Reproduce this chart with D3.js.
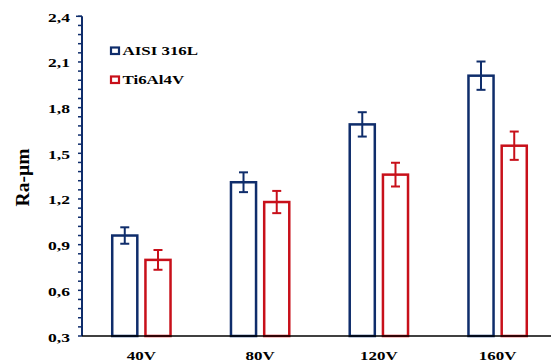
<!DOCTYPE html>
<html>
<head>
<meta charset="utf-8">
<script src="https://cdn.jsdelivr.net/npm/d3@7"></script>
<style>
  html, body { margin: 0; padding: 0; background: #fff; }
  svg { display: block; }
</style>
</head>
<body>
<svg id="chart" width="552" height="363"></svg>
<script>
// Surface roughness Ra (µm) by bias voltage for two alloys
const categories = ["40V", "80V", "120V", "160V"];
const seriesNames = ["AISI 316L", "Ti6Al4V"];
const aisiValues = [0.96, 1.31, 1.69, 2.01];
const aisiErrors = [0.054, 0.065, 0.08, 0.093];
const tiValues = [0.80, 1.18, 1.36, 1.55];
const tiErrors = [0.065, 0.073, 0.078, 0.093];
const yTicks = [0.3, 0.6, 0.9, 1.2, 1.5, 1.8, 2.1, 2.4];

const colors = ["#0f2d6b", "#c8101a"];
const series = [
  { name: seriesNames[0], values: aisiValues, errors: aisiErrors, color: colors[0] },
  { name: seriesNames[1], values: tiValues, errors: tiErrors, color: colors[1] }
];

const FONT = "'Liberation Serif', 'DejaVu Serif', 'Times New Roman', serif";
const SX = 1.3; // horizontal widening of the lettering

const svg = d3.select("#chart")
  .attr("font-family", FONT)
  .attr("font-weight", "bold");
const plotLeft = 82, plotRight = 557, plotTop = 16.3, plotBottom = 336;

const x = d3.scaleBand().domain(categories).range([plotLeft, plotRight]).padding(0);
const sub = d3.scaleBand().domain(seriesNames).range([-30.4, 30.4]).paddingInner(0.17);
const y = d3.scaleLinear().domain([0.3, 2.4]).range([plotBottom, plotTop]);

const barStroke = 2.5;

// Bars with error bars
series.forEach(s => {
  const g = svg.append("g");
  categories.forEach((c, i) => {
    const cx = x(c) + x.bandwidth() / 2;
    const bx = cx + sub(s.name);
    const bw = sub.bandwidth();
    g.append("rect")
      .attr("x", bx + barStroke / 2)
      .attr("y", y(s.values[i]))
      .attr("width", bw - barStroke)
      .attr("height", plotBottom - y(s.values[i]))
      .attr("fill", "none")
      .attr("stroke", s.color)
      .attr("stroke-width", barStroke);
    const mx = bx + bw / 2;
    const hi = y(s.values[i] + s.errors[i]);
    const lo = y(s.values[i] - s.errors[i]);
    g.append("line").attr("x1", mx).attr("x2", mx).attr("y1", hi).attr("y2", lo)
      .attr("stroke", s.color).attr("stroke-width", 2);
    [hi, lo].forEach(yy => {
      g.append("line").attr("x1", mx - 4.5).attr("x2", mx + 4.5).attr("y1", yy).attr("y2", yy)
        .attr("stroke", s.color).attr("stroke-width", 2);
    });
  });
});

// Y axis with minor ticks
const minorTicks = d3.range(0.3, 2.4001, 0.06);
const yAxisG = svg.append("g");
minorTicks.forEach(v => {
  yAxisG.append("line").attr("x1", plotLeft - 4).attr("x2", plotLeft)
    .attr("y1", y(v)).attr("y2", y(v))
    .attr("stroke", colors[0]).attr("stroke-width", 1.5);
});
yAxisG.append("line").attr("x1", plotLeft).attr("x2", plotLeft)
  .attr("y1", y(2.4)).attr("y2", plotBottom)
  .attr("stroke", colors[0]).attr("stroke-width", 2);
yAxisG.append("line").attr("x1", plotLeft - 6).attr("x2", plotLeft)
  .attr("y1", y(2.4)).attr("y2", y(2.4))
  .attr("stroke", colors[0]).attr("stroke-width", 1.5);
yAxisG.selectAll("text.ytick").data(yTicks).join("text")
  .attr("class", "ytick")
  .attr("transform", d => `translate(70,${y(d) + 5.5}) scale(${SX},1)`)
  .attr("text-anchor", "end")
  .attr("font-size", 13.5)
  .attr("fill", "#000")
  .text(d => d.toFixed(1).replace(".", ","));

// X axis baseline and labels
svg.append("line").attr("x1", plotLeft).attr("x2", 551)
  .attr("y1", plotBottom).attr("y2", plotBottom)
  .attr("stroke", "#000").attr("stroke-width", 1.5);
svg.selectAll("text.xtick").data(categories).join("text")
  .attr("class", "xtick")
  .attr("transform", d => `translate(${x(d) + x.bandwidth() / 2},359.5) scale(${SX},1)`)
  .attr("text-anchor", "middle")
  .attr("font-size", 13)
  .attr("fill", "#000")
  .text(d => d);

// Axis title
svg.append("text")
  .attr("transform", "translate(29,177.5) rotate(-90)")
  .attr("text-anchor", "middle")
  .attr("font-size", 19.5)
  .attr("fill", "#000")
  .text("Ra-µm");

// Legend
const legend = svg.append("g");
series.forEach((s, i) => {
  const ly = 55 + i * 29;
  legend.append("rect")
    .attr("x", 111).attr("y", ly - 7.5).attr("width", 8).attr("height", 6.5)
    .attr("fill", "none").attr("stroke", s.color).attr("stroke-width", 2.2);
  legend.append("text")
    .attr("transform", `translate(122.5,${ly}) scale(${SX},1)`)
    .attr("font-size", 13)
    .attr("fill", "#000")
    .text(s.name);
});
</script>
</body>
</html>
